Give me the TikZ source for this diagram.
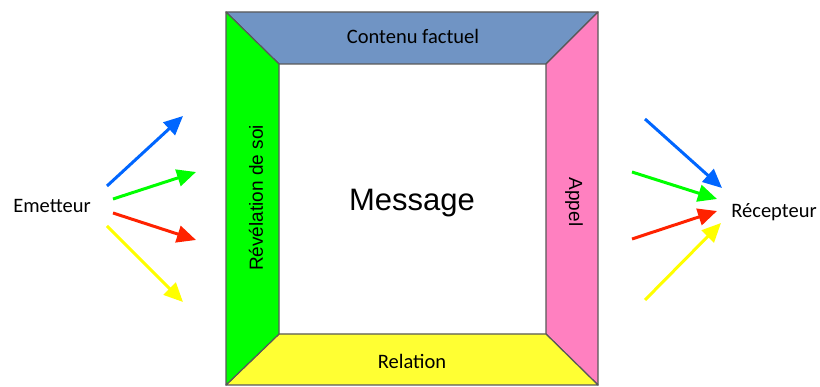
\documentclass[tikz,border=0pt]{standalone}
\usepackage{fontspec}
\setmainfont{Carlito}
\newfontfamily\arialfont{Liberation Sans}
\usetikzlibrary{arrows.meta}
\definecolor{factblue}{HTML}{7094C4}
\definecolor{selfgreen}{HTML}{00FF00}
\definecolor{appealpink}{HTML}{FF80C0}
\definecolor{relyellow}{HTML}{FFFF33}
\definecolor{sigblue}{HTML}{0066FF}
\definecolor{sigred}{HTML}{FF2200}
\definecolor{sigyellow}{HTML}{FFFF00}
\begin{document}
\begin{tikzpicture}[x=1pt,y=-1pt,
    face/.style={draw=black!65,line width=1.2pt,line join=round},
    signal/.style={line width=3pt,-{Triangle[length=19pt,width=17pt]}},
    label/.style={font=\fontsize{20.5}{24}\selectfont,inner sep=0pt},
    side/.style={font=\arialfont\fontsize{19}{22}\selectfont,inner sep=0pt}]
  \useasboundingbox (0,0) rectangle (820,387);

  % frame corners
  \coordinate (o1) at (226,12);  \coordinate (o2) at (598,12);
  \coordinate (o3) at (598,385); \coordinate (o4) at (226,385);
  \coordinate (i1) at (279,64);  \coordinate (i2) at (546,64);
  \coordinate (i3) at (546,334); \coordinate (i4) at (279,334);

  \fill[white] (i1) rectangle (i3);
  \draw[face,fill=factblue] (o1) -- (o2) -- (i2) -- (i1) -- cycle;
  \draw[face,fill=appealpink] (o2) -- (o3) -- (i3) -- (i2) -- cycle;
  \draw[face,fill=relyellow] (o3) -- (o4) -- (i4) -- (i3) -- cycle;
  \draw[face,fill=selfgreen] (o4) -- (o1) -- (i1) -- (i4) -- cycle;

  \node[label] (fact) at (413,36) {Contenu factuel};
  \node[label] (rel) at (412,361) {Relation};
  \node[side,rotate=90] (self) at (256,198) {Révélation de soi};
  \node[side,rotate=-90] (appeal) at (574,202) {Appel};
  \node[font=\arialfont\fontsize{31}{36}\selectfont,inner sep=0pt] (msg) at (412,203) {Message};

  \node[label] (sender) at (52,206) {Emetteur};
  \node[label] (receiver) at (774,212) {Récepteur};

  % outgoing signals
  \coordinate (sb) at (107,186); \coordinate (eb) at (183,116);
  \coordinate (sg) at (113,199); \coordinate (eg) at (196,172);
  \coordinate (sr) at (113,213); \coordinate (er) at (196,240);
  \coordinate (sy) at (107,226); \coordinate (ey) at (183,302);
  \draw[signal,sigblue] (sb) -- (eb);
  \draw[signal,selfgreen] (sg) -- (eg);
  \draw[signal,sigred] (sr) -- (er);
  \draw[signal,sigyellow] (sy) -- (ey);

  % incoming signals
  \coordinate (rb) at (645,119); \coordinate (tb) at (722,188);
  \coordinate (rg) at (632,172); \coordinate (tg) at (717,199);
  \coordinate (rr) at (632,239); \coordinate (tr) at (717,211);
  \coordinate (ry) at (645,300); \coordinate (ty) at (721,223);
  \draw[signal,sigblue] (rb) -- (tb);
  \draw[signal,selfgreen] (rg) -- (tg);
  \draw[signal,sigred] (rr) -- (tr);
  \draw[signal,sigyellow] (ry) -- (ty);
\end{tikzpicture}
\end{document}
